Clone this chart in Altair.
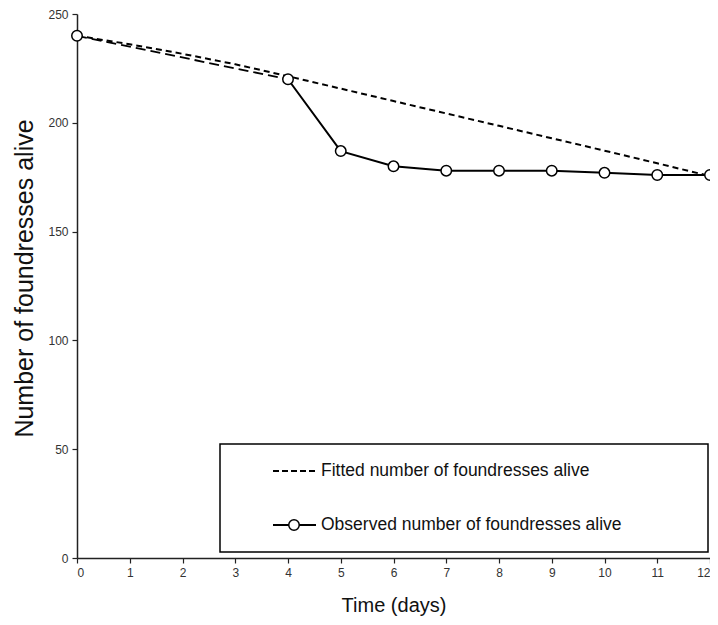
import altair as alt
import pandas as pd

# ---- data ----
fit_days = [0, 1, 2, 3, 4, 5, 6, 7, 8, 9, 10, 11, 12]
fit_alive = [240, 236.1, 231.7, 226.9, 221.4, 215.7, 210, 204.3, 198.6, 192.9, 187.2, 181.4, 175.5]

obs_days = [0, 4, 5, 6, 7, 8, 9, 10, 11, 12]
obs_alive = [240, 220, 187, 180, 178, 178, 178, 177, 176, 176]

x_ticks = list(range(0, 13))
y_ticks = [0, 50, 100, 150, 200, 250]

legend_labels = ["Fitted number of foundresses alive", "Observed number of foundresses alive"]

FONT = "Liberation Sans"

fit_df = pd.DataFrame({"day": fit_days, "alive": fit_alive})
obs_df = pd.DataFrame({"day": obs_days, "alive": obs_alive})
gap_df = obs_df[obs_df["day"] <= 4]
solid_df = obs_df[obs_df["day"] >= 4]

xs = alt.Scale(domain=[0, 12], nice=False)
ys = alt.Scale(domain=[0, 250], nice=False)

x_enc = alt.X("day:Q", scale=xs, axis=alt.Axis(
    values=x_ticks, title="Time (days)", format="d",
    titleFontSize=20, titleFont=FONT, titleFontWeight="normal", titleColor="#111",
    titlePadding=17, labelFontSize=12, labelFont=FONT, labelColor="#333",
    labelPadding=4, tickSize=5, tickColor="#222", domainColor="#222",
    domainWidth=1.5, tickWidth=1.2, grid=False))
y_enc = alt.Y("alive:Q", scale=ys, axis=alt.Axis(
    values=y_ticks, title="Number of foundresses alive", format="d",
    titleFontSize=25, titleFont=FONT, titleFontWeight="normal", titleColor="#111",
    titlePadding=10, titleY=264, labelFontSize=12, labelFont=FONT, labelColor="#333",
    labelPadding=4, tickSize=5, tickColor="#222", domainColor="#222",
    domainWidth=1.5, tickWidth=1.2, grid=False))

fit_line = alt.Chart(fit_df).mark_line(
    color="black", strokeWidth=2, strokeDash=[6, 4]
).encode(x=x_enc, y=y_enc)

gap_line = alt.Chart(gap_df).mark_line(
    color="black", strokeWidth=1.8, strokeDash=[10, 5]
).encode(x="day:Q", y="alive:Q")

obs_line = alt.Chart(solid_df).mark_line(
    color="black", strokeWidth=2
).encode(x="day:Q", y="alive:Q")

obs_pts = alt.Chart(obs_df).mark_point(
    shape="circle", filled=True, fill="white", stroke="black", strokeWidth=1.5,
    size=110, opacity=1
).encode(x="day:Q", y="alive:Q")

# ---- legend drawn inside the plot ----
one = pd.DataFrame({"k": [0]})
leg_box = alt.Chart(one).mark_rect(
    fill="white", stroke="black", strokeWidth=1.5
).encode(x=alt.value(143), x2=alt.value(631), y=alt.value(430), y2=alt.value(538))

leg_fit = alt.Chart(one).mark_rule(
    color="black", strokeWidth=2, strokeDash=[6, 3]
).encode(x=alt.value(196), x2=alt.value(239), y=alt.value(457))

leg_obs = alt.Chart(one).mark_rule(
    color="black", strokeWidth=2
).encode(x=alt.value(196), x2=alt.value(239), y=alt.value(511))

leg_pt = alt.Chart(one).mark_point(
    shape="circle", filled=True, fill="white", stroke="black", strokeWidth=1.5,
    size=110, opacity=1
).encode(x=alt.value(217), y=alt.value(511))

lab_df = pd.DataFrame({"label": legend_labels, "ypix": [457, 511]})
leg_text = alt.Chart(lab_df).mark_text(
    align="left", baseline="middle", fontSize=17.5, font=FONT, color="#111"
).encode(x=alt.value(244), y=alt.Y("ypix:Q", scale=None), text="label:N")

chart = alt.layer(
    fit_line, gap_line, obs_line, obs_pts,
    leg_box, leg_fit, leg_obs, leg_pt, leg_text
).properties(
    width=633, height=544,
    autosize=alt.AutoSizeParams(type="none"),
    padding={"left": 69, "top": 6, "right": 0, "bottom": 59},
    background="white"
).configure_view(stroke=None)

chart.save("out.html", embed_options={"renderer": "svg", "actions": False})
